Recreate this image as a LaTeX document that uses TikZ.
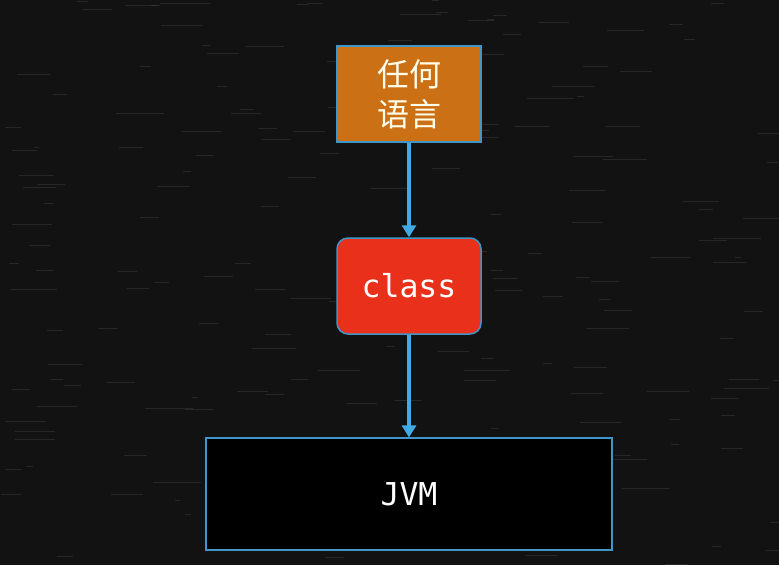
\documentclass[tikz,border=0pt]{standalone}
\usepackage{fontspec}
\setmonofont{DejaVu Sans Mono}
\newfontfamily\cjk{Noto Sans CJK SC}
\usetikzlibrary{arrows.meta}
\definecolor{board}{RGB}{18,18,18}
\definecolor{chalk}{RGB}{80,80,80}
\definecolor{langorange}{RGB}{204,112,22}
\definecolor{classred}{RGB}{232,48,26}
\definecolor{linkblue}{RGB}{66,170,226}
\definecolor{edgeblue}{RGB}{64,150,200}

\begin{document}
\begin{tikzpicture}[x=1pt,y=-1pt,>={Triangle[width=14pt,length=12pt]},
	box/.style={draw=edgeblue,line width=1.5pt,inner sep=0pt,text=white,align=center},
	link/.style={->,color=linkblue,line width=3.2pt},
	streak/.style={color=chalk,line width=0.7pt,opacity=0.35}]
\useasboundingbox (0,0) rectangle (779,565);
\fill[board] (0,0) rectangle (779,565);

% chalk texture
\pgfmathsetseed{11}
\foreach \i in {1,...,200}{
	\pgfmathsetmacro\px{rnd*779}
	\pgfmathsetmacro\py{rnd*565}
	\pgfmathsetmacro\pl{5+rnd*45}
	\draw[streak] (\px,\py) -- ++(\pl,0);
}

\node[box,fill=langorange,minimum width=144pt,minimum height=96pt,font=\cjk\fontsize{32}{40}\selectfont,text=white!92!yellow] (lang) at (409,94) {任何\\语言};
\node[box,fill=classred,rounded corners=11pt,minimum width=144pt,minimum height=96pt,font=\ttfamily\fontsize{31.5}{36}\selectfont] (cls) at (409,286) {class};
\node[box,fill=black,line width=1.2pt,minimum width=406pt,minimum height=112pt,font=\ttfamily\fontsize{31.5}{36}\selectfont] (jvm) at (409,494) {JVM};

\draw[link] (lang) -- (cls);
\draw[link] (cls) -- (jvm);

\end{tikzpicture}
\end{document}
